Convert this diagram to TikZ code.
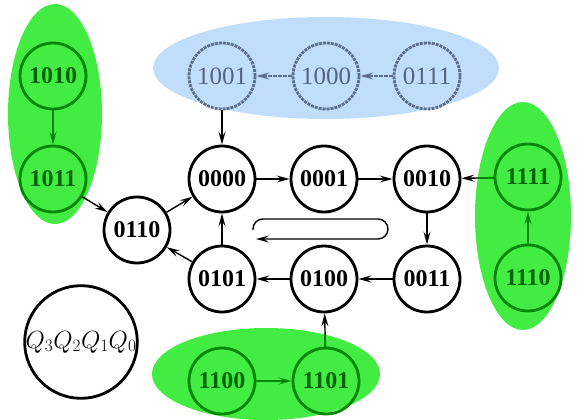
\documentclass[tikz,border=0pt]{standalone}
\usepackage{fontspec}
\setmainfont{Liberation Serif}
\usetikzlibrary{arrows.meta}
\definecolor{gfill}{RGB}{66,236,66}
\definecolor{bfill}{RGB}{192,222,252}
\definecolor{gline}{RGB}{0,135,0}
\definecolor{gtext}{RGB}{0,100,0}
\definecolor{bline}{RGB}{90,110,138}
\definecolor{btext}{RGB}{85,100,128}
\tikzset{
  st/.style={circle, draw, line width=2.8pt, minimum size=66pt, inner sep=0pt,
    font=\fontsize{24}{24}\selectfont\bfseries},
  gst/.style={st, draw=gline, text=gtext},
  bst/.style={st, draw=bline, text=btext, dash pattern=on 3pt off 1pt,
    font=\fontsize{25}{25}\selectfont},
  tip/.style={-{Stealth[length=13pt,width=7pt,inset=5pt]}},
  arr/.style={tip, line width=1.4pt, black},
  garr/.style={tip, line width=1.6pt, gline},
  barr/.style={tip, line width=1.6pt, bline, dash pattern=on 4pt off 1pt},
  legend/.style={circle, draw, line width=2.8pt, minimum size=106pt, inner sep=0pt}
}
\begin{document}
\begin{tikzpicture}[x=1pt,y=-1pt]
\useasboundingbox (0,0) rectangle (578,420);
% background ellipses
\fill[gfill] (55,114) ellipse [x radius=47, y radius=110];
\fill[gfill] (523,216) ellipse [x radius=48, y radius=114];
\fill[gfill] (266,374) ellipse [x radius=114, y radius=46];
\fill[bfill] (326,68) ellipse [x radius=173, y radius=51];
% states
\node[gst] (n1010) at (53,76) {1010};
\node[gst] (n1011) at (53,179) {1011};
\node[st] (n0110) at (137,230) {0110};
\node[bst] (n1001) at (222,76) {1001};
\node[bst] (n1000) at (326,76) {1000};
\node[bst] (n0111) at (427,76) {0111};
\node[st] (n0000) at (222,179) {0000};
\node[st] (n0001) at (324,179) {0001};
\node[st] (n0010) at (427,179) {0010};
\node[st] (n0101) at (222,279) {0101};
\node[st] (n0100) at (324,279) {0100};
\node[st] (n0011) at (427,279) {0011};
\node[gst] (n1111) at (528,177) {1111};
\node[gst] (n1110) at (528,278) {1110};
\node[gst] (n1100) at (222,381) {1100};
\node[gst] (n1101) at (326,381) {1101};
\node[legend] (leg) at (81,342) {\fontsize{23.5}{23.5}\selectfont$Q_3Q_2Q_1Q_0$};
% black transitions
\draw[arr] (n1011) -- (n0110);
\draw[arr] (n0110) -- (n0000);
\draw[arr] (n0101) -- (n0110);
\draw[arr] (n1001) -- (n0000);
\draw[arr] (n0000) -- (n0001);
\draw[arr] (n0001) -- (n0010);
\draw[arr] (n0010) -- (n0011);
\draw[arr] (n0011) -- (n0100);
\draw[arr] (n0100) -- (n0101);
\draw[arr] (n0101) -- (n0000);
\draw[arr] (n1111) -- (n0010);
\draw[arr] (n1101) -- (n0100);
% green parts of the transitions that leave the green areas
\begin{scope}
\clip (523,216) ellipse [x radius=48, y radius=114];
\draw[line width=1.6pt, gline] (n1111) -- (n0010);
\end{scope}
\begin{scope}
\clip (266,374) ellipse [x radius=114, y radius=46];
\draw[line width=1.6pt, gline] (n1101) -- (n0100);
\end{scope}
% inner transitions of the coloured areas
\draw[garr] (n1010) -- (n1011);
\draw[garr] (n1110) -- (n1111);
\draw[garr] (n1100) -- (n1101);
\draw[barr] (n0111) -- (n1000);
\draw[barr] (n1000) -- (n1001);
% counting direction
\coordinate (hs) at (253,230);
\coordinate (hm) at (388,219);
\coordinate (he) at (256,239);
\draw[tip, line width=1.4pt, rounded corners=10pt] (hs) |- (hm) |- (he);
\end{tikzpicture}
\end{document}
